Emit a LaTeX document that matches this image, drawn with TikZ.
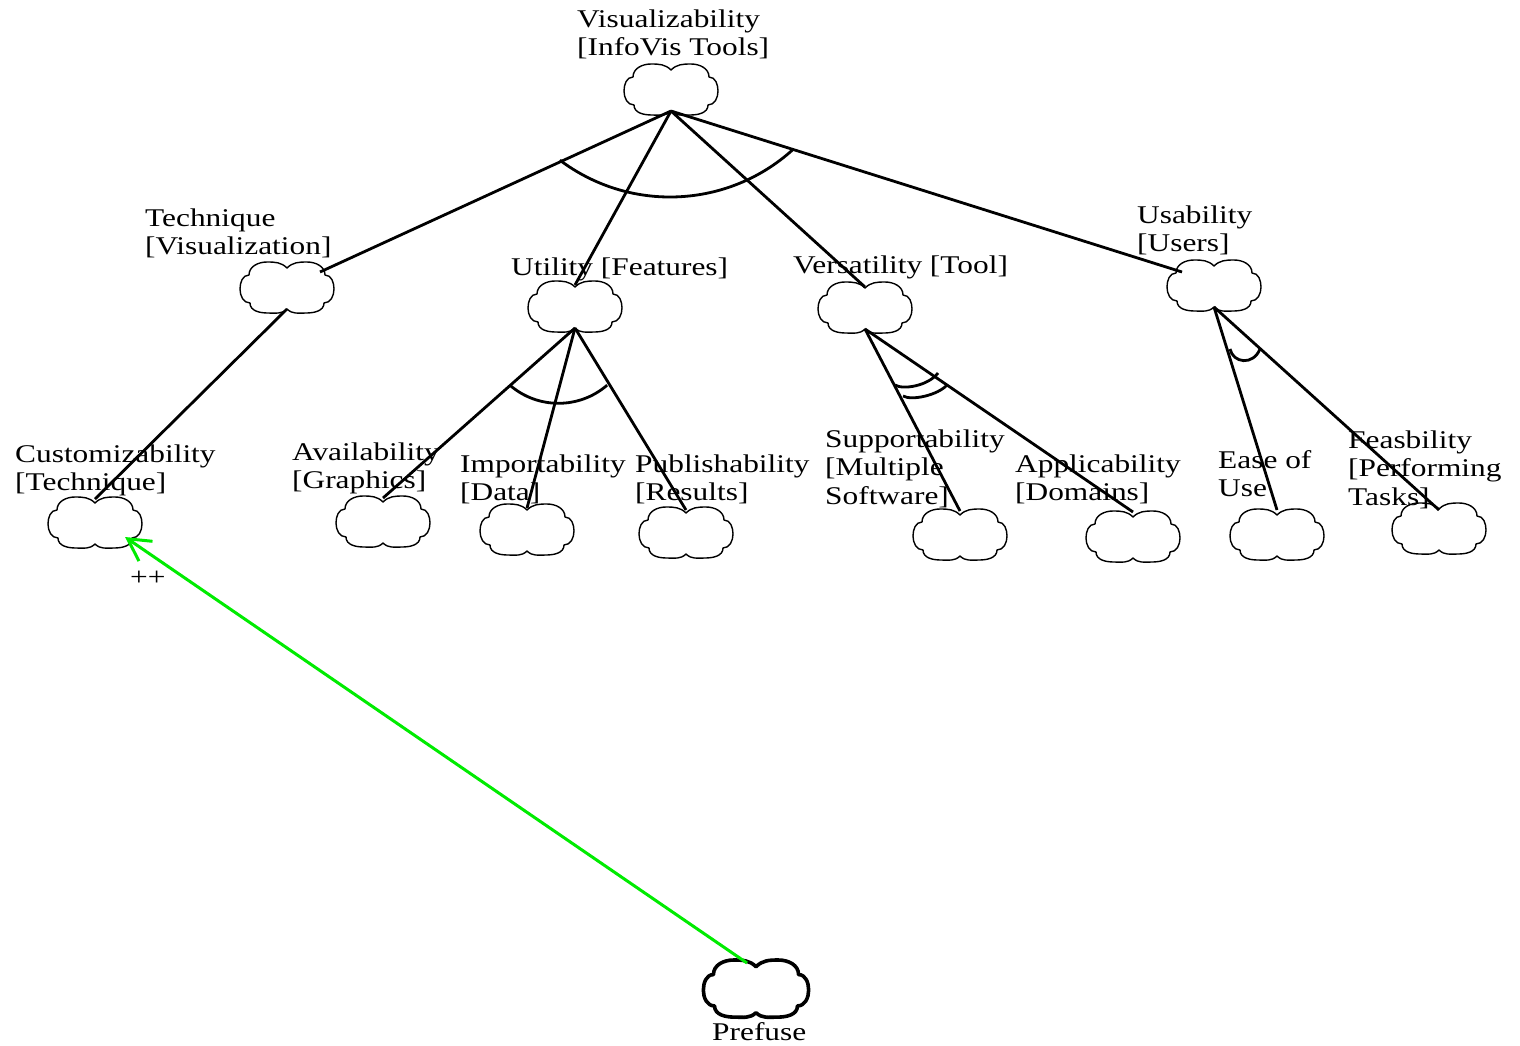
\documentclass[tikz,border=0pt]{standalone}
\usepackage{fontspec}
\setmainfont{Liberation Serif}[FakeStretch=1.23]
\usetikzlibrary{arrows.meta}
\definecolor{contribgreen}{RGB}{0,235,0}
\newcommand\sgcloud[2][]{%
  \draw[sgline,shift={(#2.center)},#1]
    (0,19) to[out=135,in=0] (-20,25) to[out=180,in=90] (-38,12)
    to[out=180,in=90] (-47,-2) to[out=-90,in=180] (-37,-16)
    to[out=-90,in=180] (-19,-26) to[out=0,in=-135] (0,-22)
    to[out=-45,in=180] (19,-26) to[out=0,in=-90] (37,-16)
    to[out=0,in=-90] (47,-2) to[out=90,in=0] (38,12)
    to[out=90,in=0] (20,25) to[out=180,in=45] (0,19) -- cycle;}
\newcommand\lblstrut{\rule{0pt}{20pt}}
\begin{document}
\begin{tikzpicture}[x=1pt,y=1pt,
  sg/.style={inner sep=0pt,minimum width=94pt,minimum height=52pt},
  sgline/.style={line width=1.4pt,line join=round},
  lbl/.style={anchor=north west,inner sep=0pt,align=left,font=\fontsize{25.5}{28.5}\selectfont},
  edge/.style={line width=2.8pt},
  andarc/.style={line width=2.8pt},
  contrib/.style={line width=3pt,color=contribgreen,-{Straight Barb[length=22pt,width=24pt]}},
]
\useasboundingbox (0,0) rectangle (1520,-1045);

% softgoal nodes
\node[sg] (vis)   at (671,-89)  {};
\node[sg] (tech)  at (287,-287) {};
\node[sg] (util)  at (575,-306) {};
\node[sg] (vers)  at (865,-307) {};
\node[sg] (usab)  at (1214,-285) {};
\node[sg] (cust)  at (95,-522)  {};
\node[sg] (avail) at (383,-521) {};
\node[sg] (impo)  at (527,-529) {};
\node[sg] (publ)  at (686,-532) {};
\node[sg] (supp)  at (960,-534) {};
\node[sg] (appl)  at (1133,-536) {};
\node[sg] (ease)  at (1277,-534) {};
\node[sg] (feas)  at (1439,-528) {};
\node[sg,minimum width=105pt,minimum height=58pt] (pre) at (756,-988) {};

\foreach \n in {vis,tech,util,vers,usab,cust,avail,impo,publ,supp,appl,ease,feas}{\sgcloud{\n}}
\sgcloud[scale=1.12,line width=3.6pt]{pre}

% labels
\node[lbl] (visl)   at (577,-7)    {\lblstrut Visualizability\\{[}InfoVis Tools]};
\node[lbl] (techl)  at (145,-206)  {\lblstrut Technique\\{[}Visualization]};
\node[lbl] (utill)  at (511,-255)  {\lblstrut Utility [Features]};
\node[lbl] (versl)  at (793,-253)  {\lblstrut Versatility [Tool]};
\node[lbl] (usabl)  at (1137,-203) {\lblstrut Usability\\{[}Users]};
\node[lbl] (custl)  at (15,-442)   {\lblstrut Customizability\\{[}Technique]};
\node[lbl] (availl) at (292,-440)  {\lblstrut Availability\\{[}Graphics]};
\node[lbl] (impol)  at (460,-452)  {\lblstrut Importability\\{[}Data]};
\node[lbl] (publl)  at (635,-452)  {\lblstrut Publishability\\{[}Results]};
\node[lbl] (suppl)  at (825,-427)  {\lblstrut Supportability\\{[}Multiple\\Software]};
\node[lbl] (appll)  at (1015,-452) {\lblstrut Applicability\\{[}Domains]};
\node[lbl] (easel)  at (1218,-448) {\lblstrut Ease of\\Use};
\node[lbl] (feasl)  at (1348,-428) {\lblstrut Feasbility\\{[}Performing\\Tasks]};
\node[lbl] (prel)   at (712,-1020) {\lblstrut Prefuse};
\node[lbl] (pp)     at (130,-565)  {\lblstrut ++};

% decomposition links
\draw[edge] ([yshift=-22pt]vis.center) -- ([shift={(33,15)}]tech.center);
\draw[edge] ([yshift=-22pt]vis.center) -- ([yshift=21pt]util.center);
\draw[edge] ([yshift=-22pt]vis.center) -- ([yshift=20pt]vers.center);
\draw[edge] ([yshift=-22pt]vis.center) -- ([shift={(-32,13)}]usab.center);

\draw[edge] ([yshift=-22pt]tech.center) -- ([yshift=23pt]cust.center);

\draw[edge] ([yshift=-22pt]util.center) -- ([yshift=23pt]avail.center);
\draw[edge] ([yshift=-22pt]util.center) -- ([yshift=21pt]impo.center);
\draw[edge] ([yshift=-22pt]util.center) -- ([yshift=22pt]publ.center);

\draw[edge] ([yshift=-22pt]vers.center) -- ([yshift=23pt]supp.center);
\draw[edge] ([yshift=-22pt]vers.center) -- ([yshift=24pt]appl.center);

\draw[edge] ([yshift=-22pt]usab.center) -- ([yshift=24pt]ease.center);
\draw[edge] ([yshift=-22pt]usab.center) -- ([yshift=18pt]feas.center);

% AND / OR arcs
\draw[andarc] (670,-14) ++(-127:183) arc[start angle=-127,end angle=-48,radius=183];
\draw[andarc] (558.5,-329) ++(-130.9:74.3) arc[start angle=-130.9,end angle=-49.1,radius=74.3];
\draw[andarc] (895,-385) .. controls (903,-390) and (928,-386) .. (938,-373);
\draw[andarc] (903,-396) .. controls (912,-401) and (938,-395) .. (947,-385);
\draw[andarc] (1230,-349) .. controls (1233,-363) and (1253,-366) .. (1260,-349);

% contribution link
\draw[contrib] ([shift={(-9,25)}]pre.center) -- ([shift={(30,-15)}]cust.center);
\end{tikzpicture}
\end{document}
